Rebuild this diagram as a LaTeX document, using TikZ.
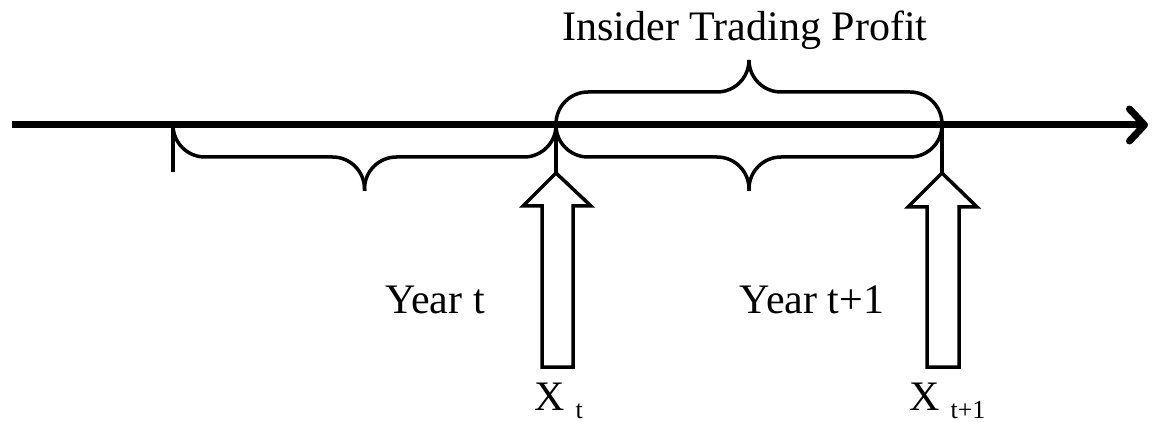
\documentclass[tikz,border=0pt]{standalone}
\usepackage{fontspec}
\setmainfont{Liberation Serif}
\usetikzlibrary{arrows.meta}
\begin{document}
\begin{tikzpicture}[x=1pt,y=-1pt,
  axisline/.style={line width=7pt,-{Straight Barb[length=15pt,width=32pt,line cap=round,line join=round]}},
  bracepath/.style={line width=3.5pt,rounded corners=32pt},
  tickline/.style={line width=4pt},
  blockarrow/.style={line width=3.5pt,line join=miter},
  lbl/.style={font=\fontsize{42}{50}\selectfont,inner sep=0pt,anchor=base}
]
\useasboundingbox (0,0) rectangle (1154,422);
% named points
\coordinate (axL) at (12,125);
\coordinate (axR) at (1148,125);
\coordinate (p0) at (173,125);
\coordinate (p1) at (556,125);
\coordinate (p2) at (942,125);
\coordinate (t0) at (173,172);
\coordinate (t1) at (556,173);
\coordinate (t2) at (942,173);
\coordinate (lmid) at (364.5,157);
\coordinate (ltip) at (364.5,191);
\coordinate (mmid) at (749,157);
\coordinate (mtip) at (749,191);
\coordinate (umid) at (749,92);
\coordinate (utip) at (749,60);
% axis
\draw[axisline] (axL) -- (axR);
% ticks
\draw[tickline] (p0) -- (t0);
\draw[tickline] (p1) -- (t1);
\draw[tickline] (p2) -- (t2);
% left brace (below)
\draw[bracepath] (p0) |- (lmid) -- (ltip);
\draw[bracepath] (p1) |- (lmid) -- (ltip);
% middle brace (below)
\draw[bracepath] (p1) |- (mmid) -- (mtip);
\draw[bracepath] (p2) |- (mmid) -- (mtip);
% upper brace
\draw[bracepath] (p1) |- (umid) -- (utip);
\draw[bracepath] (p2) |- (umid) -- (utip);
% block arrows
\draw[blockarrow] (t1) -- (591,206) -- (573,206) -- (573,367) -- (542,367) -- (542,206) -- (523,206) -- cycle;
\draw[blockarrow] (t2) -- (977,207) -- (959,207) -- (959,367) -- (927,367) -- (927,207) -- (908,207) -- cycle;
% labels
\node[lbl] (itp) at (745,41) {Insider Trading Profit};
\node[lbl] (yt) at (435,313) {Year t};
\node[lbl] (yt1) at (812,313) {Year t+1};
\node[lbl,anchor=base west] (xt) at (534,410) {X\hspace{11pt}\raisebox{-8pt}{\fontsize{26}{30}\selectfont t}};
\node[lbl,anchor=base west] (xt1) at (909,410) {X\hspace{11pt}\raisebox{-8pt}{\fontsize{26}{30}\selectfont t+1}};
\end{tikzpicture}
\end{document}
